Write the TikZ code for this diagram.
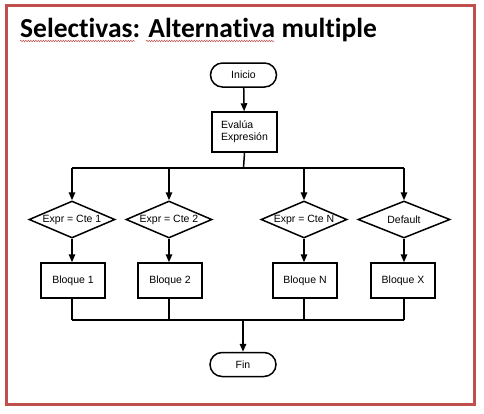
\documentclass[tikz,border=0pt]{standalone}
\usepackage{fontspec}
\setmainfont{Liberation Sans}
\newfontfamily\titlefont[Ligatures=NoCommon,RawFeature={-liga;-calt;-dlig}]{Carlito}
\usetikzlibrary{arrows.meta,shapes.geometric,shapes.misc,decorations.pathmorphing}
\definecolor{framered}{HTML}{C0504D}
\newcommand{\nolig}{\kern0pt }
\tikzset{
  flow/.style={draw=black, line width=1.5pt, font=\fontsize{10.5}{12}\selectfont, inner sep=0pt},
  term/.style={flow, rounded rectangle, minimum width=66pt, minimum height=24pt},
  procbox/.style={flow, rectangle, minimum width=64pt, minimum height=35pt},
  decis/.style={flow, diamond, minimum width=86pt, minimum height=37pt},
  conn/.style={line width=1.5pt},
  arr/.style={conn, -{Triangle[length=8pt,width=6.5pt]}},
  spell/.style={draw=framered, line width=0.5pt, decorate, decoration={snake, amplitude=0.7pt, segment length=2.5pt}}
}
\begin{document}
\begin{tikzpicture}[x=1pt,y=-1pt]
\useasboundingbox (0,0) rectangle (484,413);
\fill[white] (0,0) rectangle (484,413);
\draw[framered, line width=3pt] (6.5,5.5) rectangle (474.5,404.5);
\node[anchor=base west, inner sep=0pt, font=\titlefont\bfseries\fontsize{27.5}{30}\selectfont] (title) at (20,37) {Select\nolig ivas: Alternat\nolig iva mult\nolig iple};
\draw[spell] (20,41) -- (135,41);
\draw[spell] (146,41) -- (274,41);

\node[term] (inicio) at (243.5,75) {Inicio};
\node[procbox, minimum width=65pt, minimum height=40pt, align=left] (eval) at (244.5,132) {Evalúa\\Expresión};

\coordinate (sj) at (243.5,168);
\coordinate (s1) at (72,168);
\coordinate (s2) at (169,168);
\coordinate (sN) at (304,168);
\coordinate (sX) at (404,168);

\node[decis] (d1) at (72,219.5) {\makebox[0pt]{Expr = Cte 1}};
\node[decis] (d2) at (169,219.5) {\makebox[0pt]{Expr = Cte 2}};
\node[decis] (dN) at (304,219.5) {\makebox[0pt]{Expr = Cte N}};
\node[decis, minimum width=92pt] (dX) at (404,219.5) {\makebox[0pt]{Default}};

\node[procbox] (b1) at (73,280.5) {Bloque 1};
\node[procbox] (b2) at (170,280.5) {Bloque 2};
\node[procbox] (bN) at (305,280.5) {Bloque N};
\node[procbox] (bX) at (403,280.5) {Bloque X};

\coordinate (j1) at (72,320);
\coordinate (j2) at (169,320);
\coordinate (jN) at (304,320);
\coordinate (jX) at (404,320);
\coordinate (jm) at (243,320);

\node[term] (fin) at (243,364.5) {Fin};

\draw[arr] (inicio) -- (eval);
\draw[conn] (eval.south) -- (sj);
\draw[conn] (s1) -- (sX);
\draw[arr] (s1) -- (d1.north);
\draw[arr] (s2) -- (d2.north);
\draw[arr] (sN) -- (dN.north);
\draw[arr] (sX) -- (dX.north);
\draw[arr] (d1.south) -- (d1.south |- b1.north);
\draw[arr] (d2.south) -- (d2.south |- b2.north);
\draw[arr] (dN.south) -- (dN.south |- bN.north);
\draw[arr] (dX.south) -- (dX.south |- bX.north);
\draw[conn] (b1.south -| j1) -- (j1);
\draw[conn] (b2.south -| j2) -- (j2);
\draw[conn] (bN.south -| jN) -- (jN);
\draw[conn] (bX.south -| jX) -- (jX);
\draw[conn] (j1) -- (jX);
\draw[arr] (jm) -- (fin.north);
\end{tikzpicture}
\end{document}
